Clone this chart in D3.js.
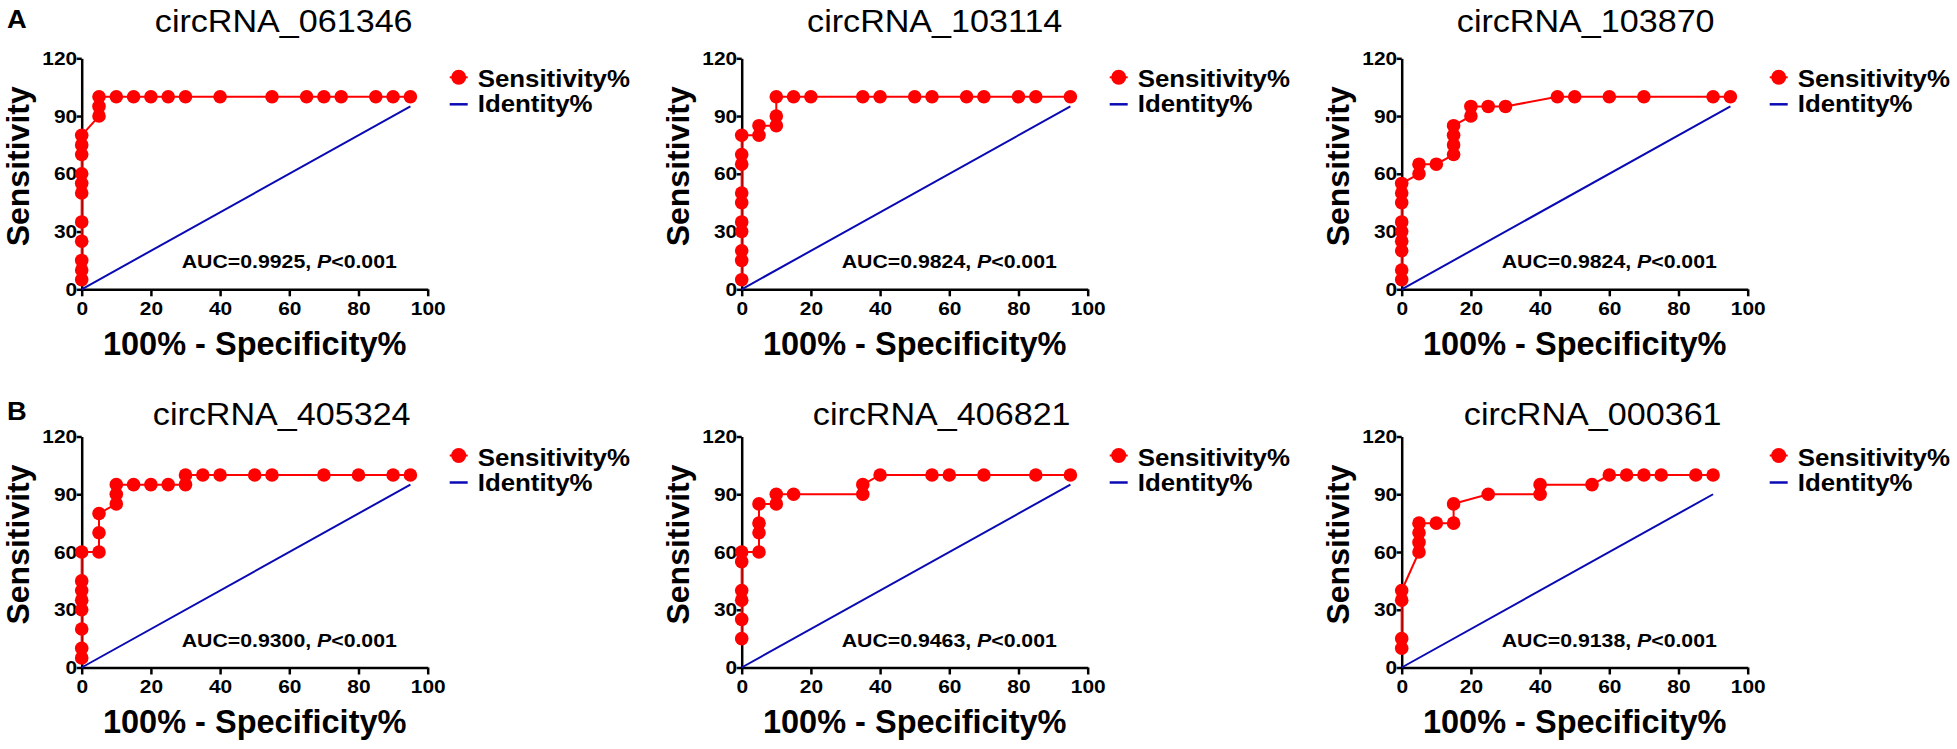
<!DOCTYPE html>
<html>
<head>
<meta charset="utf-8">
<script src="https://cdn.jsdelivr.net/npm/d3@7"></script>
<style>
  body { margin: 0; background: #fff; }
  svg { display: block; }
</style>
</head>
<body>
<div id="chart"></div>
<script>
// chart data (20 cases / 20 controls -> steps of 5%)
var titles = ["circRNA_061346", "circRNA_103114", "circRNA_103870",
              "circRNA_405324", "circRNA_406821", "circRNA_000361"];
var aucValues = ["0.9925", "0.9824", "0.9824", "0.9300", "0.9463", "0.9138"];
var panelLetters = ["A", "B"];
var xTicks = [0, 20, 40, 60, 80, 100];
var yTicks = [0, 30, 60, 90, 120];
var identityEnd = [95, 95, 95, 95, 95, 90];

var fpr061346  = [0,0,0,0,0,0,0,0,0,0,0,5,5,5,10,15,20,25,30,40,55,65,70,75,85,90,95];
var sens061346 = [5,10,15,25,35,50,55,60,70,75,80,90,95,100,100,100,100,100,100,100,100,100,100,100,100,100,100];

var fpr103114  = [0,0,0,0,0,0,0,0,0,0,5,5,10,10,10,15,20,35,40,50,55,65,70,80,85,95];
var sens103114 = [5,15,20,30,35,45,50,65,70,80,80,85,85,90,100,100,100,100,100,100,100,100,100,100,100,100];

var fpr103870  = [0,0,0,0,0,0,0,0,0,5,5,10,15,15,15,15,20,20,25,30,45,50,60,70,90,95];
var sens103870 = [5,10,20,25,30,35,45,50,55,60,65,65,70,75,80,85,90,95,95,95,100,100,100,100,100,100];

var fpr405324  = [0,0,0,0,0,0,0,0,5,5,5,10,10,10,15,20,25,30,30,35,40,50,55,70,80,90,95];
var sens405324 = [5,10,20,30,35,40,45,60,60,70,80,85,90,95,95,95,95,95,100,100,100,100,100,100,100,100,100];

var fpr406821  = [0,0,0,0,0,0,5,5,5,5,10,10,15,35,35,40,55,60,70,85,95];
var sens406821 = [15,25,35,40,55,60,60,70,75,85,85,90,90,90,95,100,100,100,100,100,100];

var fpr000361  = [0,0,0,0,5,5,5,5,10,15,15,25,40,40,55,60,65,70,75,85,90];
var sens000361 = [10,15,35,40,60,65,70,75,75,75,85,90,90,95,95,100,100,100,100,100,100];

var fprSeries  = [fpr061346, fpr103114, fpr103870, fpr405324, fpr406821, fpr000361];
var sensSeries = [sens061346, sens103114, sens103870, sens405324, sens406821, sens000361];

// layout
var W = 1957, H = 749;
var colX = [81.7, 741.7, 1401.7];
var rowTop = [58.3, 436.5];
var titleBase = [31.7, 424.5];
var letterBase = [28.3, 420];
var titleDx = [202, 193, 184, 200, 200, 191];
var plotW = 346, plotH = 231;
var font = "Arial, 'Liberation Sans', Helvetica, sans-serif";
var red = "#ff0000", blue = "#0a0ab4";

var svg = d3.select("#chart").append("svg")
  .attr("width", W)
  .attr("height", H);

svg.append("rect").attr("width", W).attr("height", H).attr("fill", "#fff");

// text helper, the source figure is slightly stretched horizontally
function addText(g, x, y, str, size, weight, anchor, sx) {
  return g.append("text")
    .attr("transform", "translate(" + x + "," + y + ") scale(" + sx + ",1)")
    .attr("text-anchor", anchor)
    .style("font-family", font)
    .style("font-size", size + "px")
    .style("font-weight", weight)
    .attr("fill", "#000")
    .text(str);
}

panelLetters.forEach(function(l, r) {
  addText(svg, 7, letterBase[r], l, 26, "bold", "start", 1.05);
});

titles.forEach(function(title, i) {
  var col = i % 3, row = Math.floor(i / 3);
  var g = svg.append("g")
    .attr("transform", "translate(" + colX[col] + "," + rowTop[row] + ")");

  var x = d3.scaleLinear().domain([0, 100]).range([0, plotW]);
  var y = d3.scaleLinear().domain([0, 120]).range([plotH, 0]);

  // title
  addText(svg, colX[col] + titleDx[i], titleBase[row], title, 31, "normal", "middle", 1.1);

  // axes
  var xAxis = g.append("g")
    .attr("transform", "translate(0," + plotH + ")")
    .call(d3.axisBottom(x).tickValues(xTicks).tickSize(7).tickPadding(5).tickSizeOuter(0));
  var yAxis = g.append("g")
    .call(d3.axisLeft(y).tickValues(yTicks).tickSize(5).tickSizeOuter(0));

  [xAxis, yAxis].forEach(function(ax) {
    ax.select(".domain").attr("stroke", "#000").attr("stroke-width", 2.5);
    ax.selectAll(".tick line").attr("stroke", "#000").attr("stroke-width", 2.5);
    ax.selectAll(".tick text")
      .style("font-family", font)
      .style("font-size", "19px")
      .style("font-weight", "bold")
      .attr("fill", "#000");
  });
  xAxis.selectAll(".tick text").attr("transform", "scale(1.1,1)");
  yAxis.selectAll(".tick text").attr("x", -4.5 / 1.1).attr("transform", "scale(1.1,1)");

  // axis titles
  addText(g, plotW / 2, plotH + 65.5, "100% - Specificity%", 32.5, "bold", "middle", 1.0);
  g.append("text")
    .attr("transform", "translate(-53," + (plotH / 2 - 7.5) + ") rotate(-90)")
    .attr("text-anchor", "middle")
    .style("font-family", font)
    .style("font-size", "32px")
    .style("font-weight", "bold")
    .text("Sensitivity");

  // identity line
  var e = identityEnd[i];
  g.append("path")
    .datum([[0, 0], [e, e]])
    .attr("fill", "none")
    .attr("stroke", blue)
    .attr("stroke-width", 2)
    .attr("d", d3.line().x(function(d) { return x(d[0]); }).y(function(d) { return y(d[1]); }));

  // ROC curve
  var pts = fprSeries[i].map(function(v, k) { return [v, sensSeries[i][k]]; });
  g.append("path")
    .datum(pts)
    .attr("fill", "none")
    .attr("stroke", red)
    .attr("stroke-width", 2)
    .attr("d", d3.line().x(function(d) { return x(d[0]); }).y(function(d) { return y(d[1]); }));

  g.selectAll("circle.pt")
    .data(pts)
    .enter().append("circle")
    .attr("class", "pt")
    .attr("cx", function(d) { return x(d[0]); })
    .attr("cy", function(d) { return y(d[1]); })
    .attr("r", 6.8)
    .attr("fill", red);

  // AUC annotation
  var t = g.append("text")
    .attr("transform", "translate(100," + (plotH - 21) + ") scale(1.15,1)")
    .style("font-family", font)
    .style("font-size", "18.5px")
    .style("font-weight", "bold");
  t.append("tspan").text("AUC=" + aucValues[i] + ", ");
  t.append("tspan").style("font-style", "italic").text("P");
  t.append("tspan").text("<0.001");

  // legend
  var lg = g.append("g").attr("transform", "translate(368,0)");
  lg.append("line").attr("x1", 0).attr("x2", 18).attr("y1", 19).attr("y2", 19)
    .attr("stroke", red).attr("stroke-width", 2);
  lg.append("circle").attr("cx", 9).attr("cy", 19).attr("r", 7.5).attr("fill", red);
  addText(lg, 28, 29, "Sensitivity%", 23.5, "bold", "start", 1.1);
  lg.append("line").attr("x1", 0).attr("x2", 18).attr("y1", 46).attr("y2", 46)
    .attr("stroke", blue).attr("stroke-width", 2.5);
  addText(lg, 28, 54, "Identity%", 23.5, "bold", "start", 1.1);
});
</script>
</body>
</html>
